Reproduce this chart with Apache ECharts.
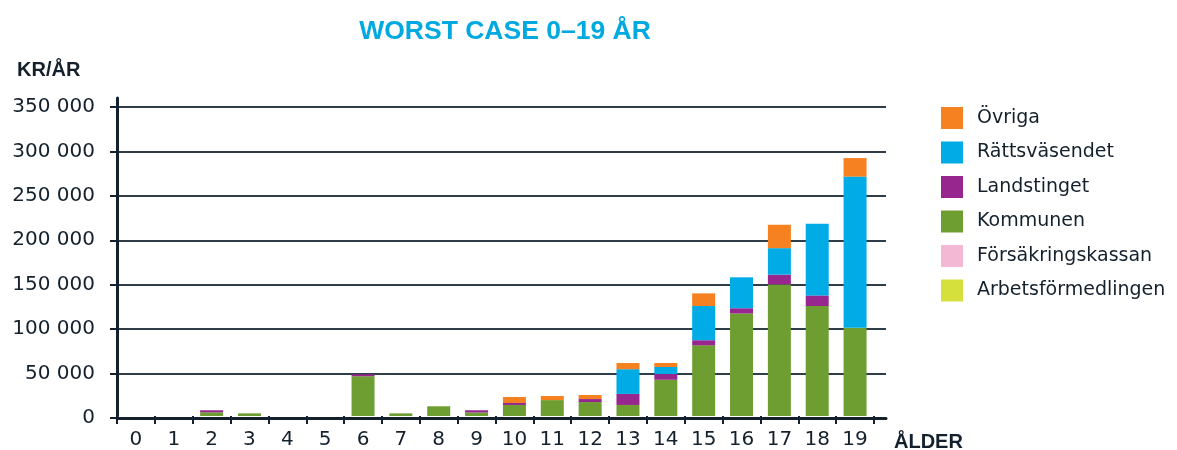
<!DOCTYPE html>
<html>
<head>
<meta charset="utf-8">
<script src="https://cdn.jsdelivr.net/npm/echarts@6/dist/echarts.min.js"></script>
<style>
  html, body { margin: 0; padding: 0; background: #ffffff; }
  #chart { width: 1177px; height: 450px; }
</style>
</head>
<body>
<div id="chart"></div>
<script>
// ---- Data ----
const ages = ['0','1','2','3','4','5','6','7','8','9','10','11','12','13','14','15','16','17','18','19'];
const arbetsformedlingen = [0,0,0,0,0,0,0,0,0,0,0,0,0,0,0,0,0,0,0,0];
const forsakringskassan  = [0,0,0,0,0,0,0,0,0,0,0,0,0,0,0,0,0,0,0,0];
const kommunen     = [0,0,4200,3000,0,0,45000,3000,11000,4000,12500,18000,15800,12500,41000,80000,116000,149000,124500,100000];
const landstinget  = [0,0,2300,0,0,0,2200,0,0,2500,2200,0,3400,12500,6500,5800,6000,11000,12000,0];
const rattsvasendet = [0,0,0,0,0,0,0,0,0,0,0,0,0,28000,8000,38700,35000,30000,81000,171000];
const ovriga       = [0,0,0,0,0,0,0,0,0,0,6800,4600,4600,7000,4500,14300,0,26500,0,21000];
const yTicks = [0,50000,100000,150000,200000,250000,300000,350000];

const dark = '#14212d';
const chart = echarts.init(document.getElementById('chart'));

function fmt(v) {
  return String(v).replace(/\B(?=(\d{3})+(?!\d))/g, ' ');
}

const seriesDefs = [
  { name: 'Arbetsförmedlingen', data: arbetsformedlingen, color: '#d6e03d' },
  { name: 'Försäkringskassan', data: forsakringskassan, color: '#f3b8d4' },
  { name: 'Kommunen', data: kommunen, color: '#6e9e32' },
  { name: 'Landstinget', data: landstinget, color: '#97268f' },
  { name: 'Rättsväsendet', data: rattsvasendet, color: '#00abe6' },
  { name: 'Övriga', data: ovriga, color: '#f68121' }
];

chart.setOption({
  animation: false,
  backgroundColor: '#ffffff',
  title: {
    text: 'WORST CASE 0–19 ÅR',
    left: 500, top: 13, textAlign: 'center',
    textStyle: { fontFamily: 'Liberation Sans', fontWeight: 'bold', fontSize: 26.5, color: '#00a9e0' }
  },
  graphic: [
    { type: 'text', left: 17, top: 60, style: { text: 'KR/ÅR', fontFamily: 'Liberation Sans', fontWeight: 'bold', fontSize: 20, fill: dark } },
    { type: 'text', left: 894, top: 432, style: { text: 'ÅLDER', fontFamily: 'Liberation Sans', fontWeight: 'bold', fontSize: 20, fill: dark } }
  ],
  legend: {
    orient: 'vertical', left: 941, top: 107, padding: 0,
    itemWidth: 22, itemHeight: 22, itemGap: 12.5, icon: 'rect',
    data: ['Övriga','Rättsväsendet','Landstinget','Kommunen','Försäkringskassan','Arbetsförmedlingen'],
    textStyle: { fontFamily: 'DejaVu Sans', fontSize: 19, color: dark, padding: [0,0,0,9] }
  },
  grid: [
    { left: 117, right: 291, top: 107, bottom: 32 },
    { left: 117, right: 303, top: 98, bottom: 32 }
  ],
  xAxis: [
    { gridIndex: 0, type: 'value', min: 0, max: 1, z: 6,
      axisLine: { show: true, onZero: false, lineStyle: { color: dark, width: 3 } },
      axisTick: { show: false }, axisLabel: { show: false }, splitLine: { show: false } },
    { gridIndex: 1, type: 'category', data: ages, boundaryGap: true,
      axisLine: { show: false },
      axisTick: { show: true, length: 8, lineStyle: { color: dark, width: 2 } },
      axisLabel: { fontFamily: 'DejaVu Sans', fontSize: 20, color: dark, margin: 14 } }
  ],
  yAxis: [
    { gridIndex: 0, type: 'value', min: 0, max: 350000, interval: 50000,
      axisLine: { show: false },
      axisTick: { show: true, length: 7, lineStyle: { color: dark, width: 2 } },
      axisLabel: { fontFamily: 'DejaVu Sans', fontSize: 20, color: dark, margin: 22,
        formatter: function (v) { return yTicks.indexOf(v) >= 0 ? fmt(v) : ''; } },
      splitLine: { show: true, lineStyle: { color: '#2f3d48', width: 2 } } },
    { gridIndex: 1, type: 'value', min: 0, max: 360000, z: 6,
      axisLine: { show: true, lineStyle: { color: dark, width: 3 } },
      axisTick: { show: false }, axisLabel: { show: false }, splitLine: { show: false } }
  ],
  series: seriesDefs.map(function (s) {
    return {
      name: s.name, type: 'bar', stack: 'total', xAxisIndex: 1, yAxisIndex: 1,
      barWidth: 23, data: s.data, itemStyle: { color: s.color }, z: 3
    };
  })
});
</script>
</body>
</html>
